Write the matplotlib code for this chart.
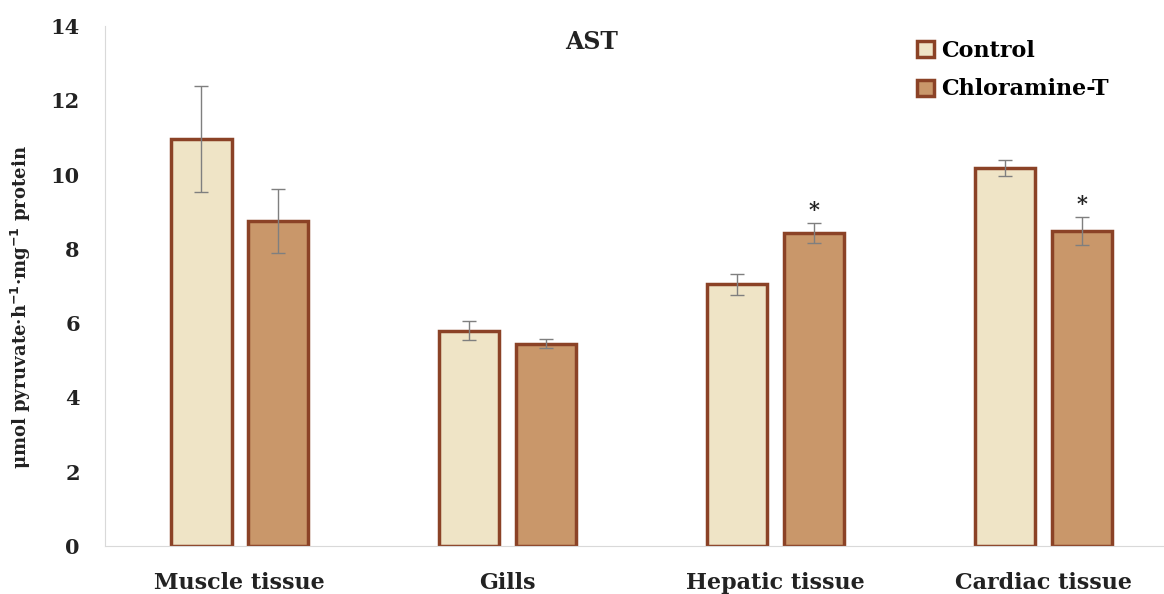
import numpy as np
import matplotlib.pyplot as plt
from matplotlib.patches import Patch

# data
tissues = ["Muscle tissue", "Gills", "Hepatic tissue", "Cardiac tissue"]
control = [10.95, 5.80, 7.05, 10.18]
control_err = [1.43, 0.26, 0.28, 0.22]
chloramine = [8.75, 5.45, 8.42, 8.48]
chloramine_err = [0.85, 0.12, 0.27, 0.38]
signif = [False, False, True, True]   # * over Chloramine-T bar

plt.rcParams['font.family'] = ['DejaVu Serif']
plt.rcParams['font.weight'] = 'bold'

edge = '#8B4226'
c_ctrl = '#EFE4C6'
c_chl = '#C9976A'
grey = '#D9D9D9'

fig = plt.figure(figsize=(11.64, 5.94), dpi=100)
ax = fig.add_axes([0.090, 0.0808, 0.91, 0.8754])

x = np.arange(len(tissues))
w = 0.225
off = 0.143

ax.bar(x - off, control, w, color=c_ctrl, edgecolor=edge, linewidth=2.5,
       yerr=control_err, error_kw=dict(ecolor='#7F7F7F', elinewidth=1, capsize=5, capthick=1))
ax.bar(x + off, chloramine, w, color=c_chl, edgecolor=edge, linewidth=2.5,
       yerr=chloramine_err, error_kw=dict(ecolor='#7F7F7F', elinewidth=1, capsize=5, capthick=1))

for i in range(len(tissues)):
    if signif[i]:
        ax.text(x[i] + off, chloramine[i] + chloramine_err[i] + 0.08, '*',
                ha='center', va='bottom', fontsize=15, color='#222222')

ax.set_xlim(-0.504, 3.45)
ax.set_ylim(0, 14)
ax.set_yticks(np.arange(0, 15, 2))
ax.set_xticks(x)
ax.set_xticklabels(tissues, fontsize=16, fontweight='bold', color='#222222')
ax.tick_params(axis='y', labelsize=15, length=0, pad=18, labelcolor='#222222')
ax.tick_params(axis='x', length=0, pad=19)
for lab in ax.get_yticklabels():
    lab.set_fontweight('bold')

for s in ['top', 'right']:
    ax.spines[s].set_visible(False)
ax.spines['left'].set_color(grey)
ax.spines['bottom'].set_color(grey)

ax.set_ylabel('μmol pyruvate·h$^{\\mathbf{-1}}$·mg$^{\\mathbf{-1}}$ protein',
              fontsize=13, fontweight='bold', color='#222222')
ax.yaxis.set_label_coords(-0.068, 0.46)

fig.text(592 / 1164, 1 - 42 / 594, 'AST', fontsize=17, fontweight='bold',
         color='#222222', ha='center', va='center')

handles = [Patch(facecolor=c_ctrl, edgecolor=edge, linewidth=2.5, label='Control'),
           Patch(facecolor=c_chl, edgecolor=edge, linewidth=2.5, label='Chloramine-T')]
ax.legend(handles=handles, loc='upper left', bbox_to_anchor=(0.748, 1.012),
          frameon=False, handlelength=0.75, handleheight=0.75,
          handletextpad=0.35, labelspacing=0.75, prop={'weight': 'bold', 'size': 16})

fig.savefig('out.png', dpi=100)
